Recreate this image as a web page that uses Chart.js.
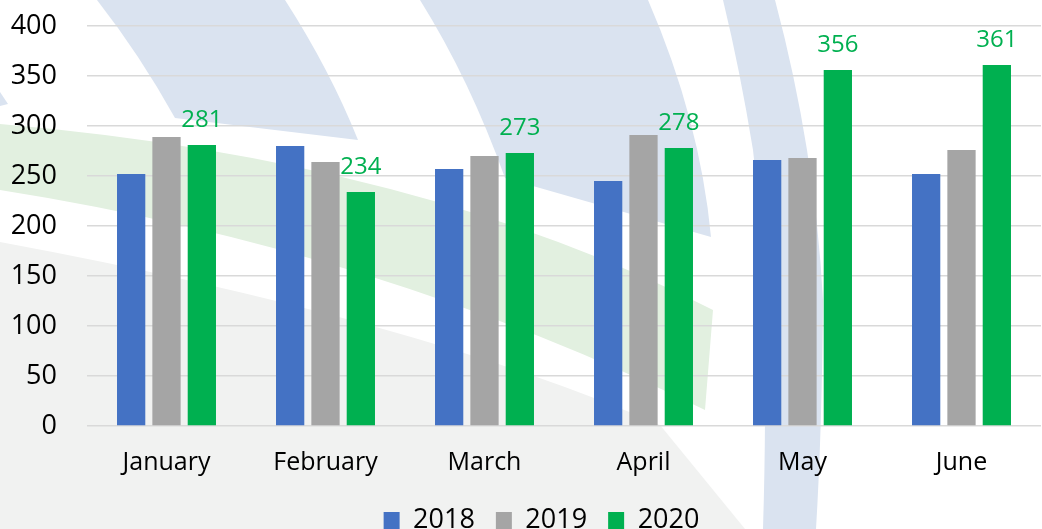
<!DOCTYPE html>
<html>
<head>
<meta charset="utf-8">
<script src="https://cdn.jsdelivr.net/npm/chart.js@4"></script>
<style>
  html, body { margin: 0; padding: 0; background: #fff; }
  #wrap { width: 1042px; height: 529px; }
</style>
</head>
<body>
<div id="wrap"><canvas id="grafica"></canvas></div>
<script>
const months = ['January', 'February', 'March', 'April', 'May', 'June'];
const years = ['2018', '2019', '2020'];
const values2018 = [252, 280, 257, 245, 266, 252];
const values2019 = [289, 264, 270, 291, 268, 276];
const values2020 = [281, 234, 273, 278, 356, 361];
const yTicks = [0, 50, 100, 150, 200, 250, 300, 350, 400];

const colores = ['#4472C4', '#A5A5A5', '#00B050'];
const FONT = "'Open Sans', sans-serif";

// faint logo arcs behind the plot
const fondo = {
  id: 'fondo',
  beforeDraw(chart) {
    const ctx = chart.ctx;
    ctx.save();
    ctx.fillStyle = '#fff';
    ctx.fillRect(0, 0, chart.width, chart.height);

    // grey lower-left area
    ctx.fillStyle = '#F1F2F1';
    ctx.beginPath();
    ctx.moveTo(0, 242);
    ctx.quadraticCurveTo(420, 320, 660, 425);
    ctx.lineTo(745, 529);
    ctx.lineTo(0, 529);
    ctx.closePath();
    ctx.fill();

    // green band
    ctx.fillStyle = '#E2F0E0';
    ctx.beginPath();
    ctx.moveTo(0, 124);
    ctx.quadraticCurveTo(420, 160, 713, 310);
    ctx.lineTo(705, 410);
    ctx.quadraticCurveTo(380, 250, 0, 190);
    ctx.closePath();
    ctx.fill();

    ctx.fillStyle = '#DAE3F0';
    // band 1
    ctx.beginPath();
    ctx.moveTo(97, 0);
    ctx.lineTo(285, 0);
    ctx.quadraticCurveTo(330, 70, 358, 140);
    ctx.lineTo(175, 118);
    ctx.quadraticCurveTo(140, 55, 97, 0);
    ctx.closePath();
    ctx.fill();
    // small piece at left edge
    ctx.beginPath();
    ctx.moveTo(0, 92);
    ctx.lineTo(8, 104);
    ctx.lineTo(0, 106);
    ctx.closePath();
    ctx.fill();
    // band 2
    ctx.beginPath();
    ctx.moveTo(420, 0);
    ctx.lineTo(648, 0);
    ctx.quadraticCurveTo(700, 120, 711, 237);
    ctx.lineTo(505, 178);
    ctx.quadraticCurveTo(470, 80, 420, 0);
    ctx.closePath();
    ctx.fill();
    // band 3
    ctx.beginPath();
    ctx.moveTo(723, 0);
    ctx.lineTo(775, 0);
    ctx.quadraticCurveTo(815, 150, 823, 300);
    ctx.quadraticCurveTo(822, 430, 816, 529);
    ctx.lineTo(763, 529);
    ctx.quadraticCurveTo(770, 300, 753, 150);
    ctx.quadraticCurveTo(740, 70, 723, 0);
    ctx.closePath();
    ctx.fill();
    ctx.restore();
  }
};

// value labels above the 2020 bars
const etiquetas = {
  id: 'etiquetas',
  afterDatasetsDraw(chart) {
    const ctx = chart.ctx;
    const meta = chart.getDatasetMeta(2);
    ctx.save();
    ctx.font = '24px ' + FONT;
    ctx.fillStyle = '#00B050';
    ctx.textAlign = 'center';
    ctx.textBaseline = 'alphabetic';
    meta.data.forEach((bar, i) => {
      ctx.fillText(values2020[i], bar.x, bar.y - 18);
    });
    ctx.restore();
  }
};

// the legend sits a bit right of centre in the original
const moverLeyenda = {
  id: 'moverLeyenda',
  afterLayout(chart) {
    if (chart.legend) {
      chart.legend.left += 17;
      chart.legend.right += 17;
    }
  }
};

new Chart(document.getElementById('grafica'), {
  type: 'bar',
  data: {
    labels: months,
    datasets: [
      { label: years[0], data: values2018, backgroundColor: colores[0] },
      { label: years[1], data: values2019, backgroundColor: colores[1] },
      { label: years[2], data: values2020, backgroundColor: colores[2] }
    ]
  },
  options: {
    responsive: true,
    maintainAspectRatio: false,
    animation: false,
    layout: { padding: { left: 8, right: 1, top: 26, bottom: -15 } },
    datasets: {
      bar: { categoryPercentage: 0.667, barPercentage: 0.8 }
    },
    scales: {
      x: {
        grid: { display: false },
        border: { display: false },
        ticks: { color: '#000', font: { family: FONT, size: 25 }, padding: 14 },
        afterFit(axis) {
          axis.height = 60;
          axis.paddingTop = 0;
          axis.paddingBottom = 0;
        }
      },
      y: {
        min: 0,
        max: 400,
        afterBuildTicks(axis) { axis.ticks = yTicks.map(v => ({ value: v })); },
        afterFit(axis) {
          axis.width = 79;
          axis.paddingTop = 0;
          axis.paddingBottom = 0;
        },
        grid: { color: '#D9D9D9', lineWidth: 1.5, drawTicks: false },
        border: { display: false },
        ticks: { color: '#000', font: { family: FONT, size: 27 }, padding: 30 }
      }
    },
    plugins: {
      legend: {
        position: 'bottom',
        labels: {
          color: '#000',
          font: { family: FONT, size: 27, lineHeight: 1 },
          boxWidth: 16,
          boxHeight: 17,
          padding: 21
        }
      },
      tooltip: { enabled: false }
    }
  },
  plugins: [fondo, etiquetas, moverLeyenda]
});
</script>
</body>
</html>
